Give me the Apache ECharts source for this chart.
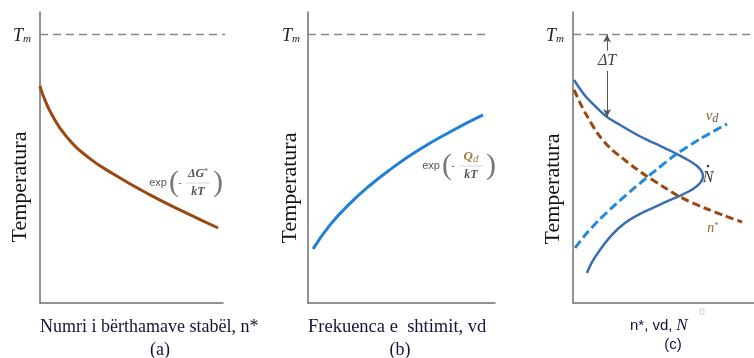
<!DOCTYPE html>
<html><head><meta charset="utf-8">
<script src="https://cdn.jsdelivr.net/npm/echarts@6/dist/echarts.min.js"></script>
<style>html,body{margin:0;padding:0;background:#fff}#c{width:754px;height:358px}</style>
</head><body><div id="c"></div>
<script>
// Temperature axis: 0..130 (Tm = 120); abscissa: 0..100 (arbitrary units)
const Tm = 120;
// (a) number of stable nuclei n* vs T
const nStarA_x = [0, 1.6, 6.6, 14.2, 26.2, 41.0, 60.1, 78.7, 97.3];
const nStarA_T = [97.0, 92.9, 84.0, 74.6, 65.2, 57.2, 48.3, 40.7, 33.5];
// (b) diffusion frequency vd vs T
const vdB_x = [2.7, 11.8, 22.5, 33.2, 43.9, 58.3, 75.9, 93.6];
const vdB_T = [24.1, 34.9, 44.5, 52.6, 59.6, 67.9, 76.4, 84.0];
// (c) nucleation rate N, n*, vd
const Nc_x = [0.6, 3.9, 7.7, 13.3, 18.8, 26.0, 32.6, 39.8, 48.1, 56.4, 63.5, 68.5, 71.3, 71.8, 70.2, 66.3, 60.2, 52.5, 45.3, 37.0, 28.7, 21.5, 14.9, 10.5, 7.7];
const Nc_T = [99.6, 95.6, 91.6, 87.1, 83.1, 79.5, 76.4, 73.3, 70.2, 67.0, 63.9, 61.2, 58.5, 56.3, 53.6, 50.9, 48.3, 45.6, 42.9, 39.8, 35.7, 30.4, 23.7, 18.3, 13.4];
const nStarC_x = [0.6, 3.9, 7.7, 13.8, 20.4, 27.1, 34.3, 41.4, 49.2, 59.1, 72.9, 84.0, 93.4];
const nStarC_T = [95.2, 89.4, 83.6, 75.5, 69.3, 64.8, 60.3, 56.3, 52.3, 47.4, 42.4, 38.9, 36.2];
const vdC_x = [1.1, 7.2, 13.8, 23.2, 32.6, 39.8, 45.3, 56.4, 70.2, 85.1];
const vdC_T = [24.6, 30.8, 36.6, 43.8, 50.5, 55.4, 59.0, 66.1, 73.3, 80.0];
const deltaT_x = 18.8;
const deltaT_low = 83.1;
const tmEnd = [106.6, 94.7, 100];

const zip = (xs, ys) => xs.map((x, i) => [x, ys[i]]);
const chart = echarts.init(document.getElementById('c'));
const axisCol = '#6f6f6f';
const grids = [
  {left: 40, top: 12, width: 183, height: 291},
  {left: 308, top: 12, width: 187, height: 291},
  {left: 573, top: 12, width: 181, height: 291}
];
const mkX = i => ({type: 'value', gridIndex: i, min: 0, max: 100, axisLabel: {show: false}, axisTick: {show: false}, splitLine: {show: false}, axisLine: {lineStyle: {color: axisCol, width: 1.5}}});
const mkY = i => ({type: 'value', gridIndex: i, min: 0, max: 130, axisLabel: {show: false}, axisTick: {show: false}, splitLine: {show: false}, axisLine: {lineStyle: {color: axisCol, width: 1.5}}});
const tmSeries = i => ({type: 'line', xAxisIndex: i, yAxisIndex: i, clip: false, showSymbol: false, silent: true,
  data: [[0, Tm], [tmEnd[i], Tm]], lineStyle: {color: '#888', width: 1.5, type: [8, 5]}, z: 1});
const brown = '#9c4812', blueB = '#1f80d8', blueN = '#3b6db5', blueV = '#2189dc';
const serif = "'Liberation Serif','DejaVu Serif',serif";
const sans = "'Liberation Sans','DejaVu Sans',sans-serif";

const graphic = [];
const txt = (x, y, text, font, fill, extra) => graphic.push(Object.assign({type: 'text', x, y, style: {text, font, fill: fill || '#111', align: 'center', verticalAlign: 'middle'}}, extra || {}));
// y labels
[[20, 187], [290, 188], [553, 189]].forEach(p => txt(p[0], p[1], 'Temperatura', '22px ' + serif, '#111', {rotation: Math.PI / 2}));
// Tm labels
[[22, 36], [291, 36], [555, 36]].forEach(p => graphic.push({type: 'text', x: p[0], y: p[1], style: {text: '{t|T}{m|m}', align: 'center', verticalAlign: 'middle', rich: {t: {font: 'italic 18px ' + serif, fill: '#222'}, m: {font: 'italic 11px ' + serif, fill: '#222', verticalAlign: 'bottom', padding: [6, 0, 0, 0]}}}}));
// x labels
graphic.push({type: 'text', x: 40, y: 327, style: {text: 'Numri i bërthamave stabël, n*', font: '18px ' + serif, fill: '#14143a', align: 'left', verticalAlign: 'middle'}});
txt(160, 350, '(a)', '18px ' + serif, '#14143a');
graphic.push({type: 'text', x: 308, y: 327, style: {text: 'Frekuenca e  shtimit, vd', font: '18.5px ' + serif, fill: '#14143a', align: 'left', verticalAlign: 'middle'}});
txt(400, 350, '(b)', '18px ' + serif, '#14143a');
graphic.push({type: 'text', x: 630, y: 326, style: {text: 'n*, vd,', font: '15px ' + sans, fill: '#14143a', align: 'left', verticalAlign: 'middle'}});
txt(682, 326, 'N', 'italic 17px ' + serif, '#14143a');
graphic.push({type: 'rect', shape: {x: 700, y: 309, width: 4, height: 5}, style: {fill: 'none', stroke: '#bbb', lineWidth: 0.7}});
txt(673, 345, '(c)', '15px ' + sans, '#14143a');
// exp labels
const expLabel = (x0, yc, numStyle) => {
  txt(x0 + 10, yc, 'exp', '11px ' + sans, '#555');
  txt(x0 + 26, yc, '(', '30px ' + serif, '#777');
  txt(x0 + 32, yc, '-', '11px ' + sans, '#666');
  graphic.push({type: 'text', x: x0 + 50, y: yc - 9, style: numStyle});
  graphic.push({type: 'line', shape: {x1: x0 + 38, y1: yc, x2: x0 + 62, y2: yc}, style: {stroke: '#ccc', lineWidth: 0.8}});
  txt(x0 + 50, yc + 9, 'kT', 'bold italic 12px ' + serif, '#555');
  txt(x0 + 70, yc, ')', '30px ' + serif, '#777');
};
expLabel(148, 183, {text: '{a|ΔG}{b|*}', align: 'center', verticalAlign: 'middle', rich: {a: {font: 'bold italic 12px ' + serif, fill: '#555'}, b: {font: '8px ' + serif, fill: '#555', verticalAlign: 'top'}}});
expLabel(421, 166, {text: '{a|Q}{b|d}', align: 'center', verticalAlign: 'middle', rich: {a: {font: 'bold italic 13px ' + serif, fill: '#a07a3a'}, b: {font: 'italic 11px ' + serif, fill: '#a07a3a', verticalAlign: 'bottom', padding: [4, 0, 0, 0]}}});
// curve labels in (c)
graphic.push({type: 'text', x: 712, y: 116, style: {text: '{v|v}{d|d}', align: 'center', verticalAlign: 'middle', rich: {v: {font: 'italic 15px ' + serif, fill: '#8a6a30'}, d: {font: 'italic 12px ' + serif, fill: '#555', verticalAlign: 'bottom', padding: [5, 0, 0, 0]}}}});
txt(708, 178, 'N', 'italic 16px ' + serif, '#333');
graphic.push({type: 'circle', shape: {cx: 708, cy: 166, r: 1.2}, style: {fill: '#333'}});
graphic.push({type: 'text', x: 713, y: 228, style: {text: '{n|n}{s|*}', align: 'center', verticalAlign: 'middle', rich: {n: {font: 'italic 14px ' + serif, fill: '#8a6a30'}, s: {font: '9px ' + serif, fill: '#777', verticalAlign: 'top'}}}});

chart.setOption({
  animation: false,
  grid: grids,
  xAxis: [mkX(0), mkX(1), mkX(2)],
  yAxis: [mkY(0), mkY(1), mkY(2)],
  graphic: graphic,
  series: [
    tmSeries(0), tmSeries(1), tmSeries(2),
    {type: 'line', xAxisIndex: 0, yAxisIndex: 0, smooth: 0.5, showSymbol: false, data: zip(nStarA_x, nStarA_T), lineStyle: {color: brown, width: 3}},
    {type: 'line', xAxisIndex: 1, yAxisIndex: 1, smooth: 0.5, showSymbol: false, data: zip(vdB_x, vdB_T), lineStyle: {color: blueB, width: 3}},
    {type: 'line', xAxisIndex: 2, yAxisIndex: 2, smooth: 0.3, showSymbol: false, data: zip(Nc_x, Nc_T), lineStyle: {color: blueN, width: 2.5},
      markLine: {silent: true, symbol: ['arrow', 'arrow'], symbolSize: [6, 8],
        label: {show: true, position: 'middle', formatter: 'ΔT', fontStyle: 'italic', fontFamily: serif, fontSize: 16, color: '#444', backgroundColor: '#fff', padding: [2, 0], rotate: 0},
        lineStyle: {color: '#555', width: 1, type: 'solid'},
        data: [[{coord: [deltaT_x, Tm]}, {coord: [deltaT_x, deltaT_low]}]]}},
    {type: 'line', xAxisIndex: 2, yAxisIndex: 2, smooth: 0.3, showSymbol: false, data: zip(nStarC_x, nStarC_T), lineStyle: {color: brown, width: 3, type: [8, 4]}},
    {type: 'line', xAxisIndex: 2, yAxisIndex: 2, smooth: 0.3, showSymbol: false, data: zip(vdC_x, vdC_T), lineStyle: {color: blueV, width: 3, type: [9, 4]}}
  ]
});
</script></body></html>
